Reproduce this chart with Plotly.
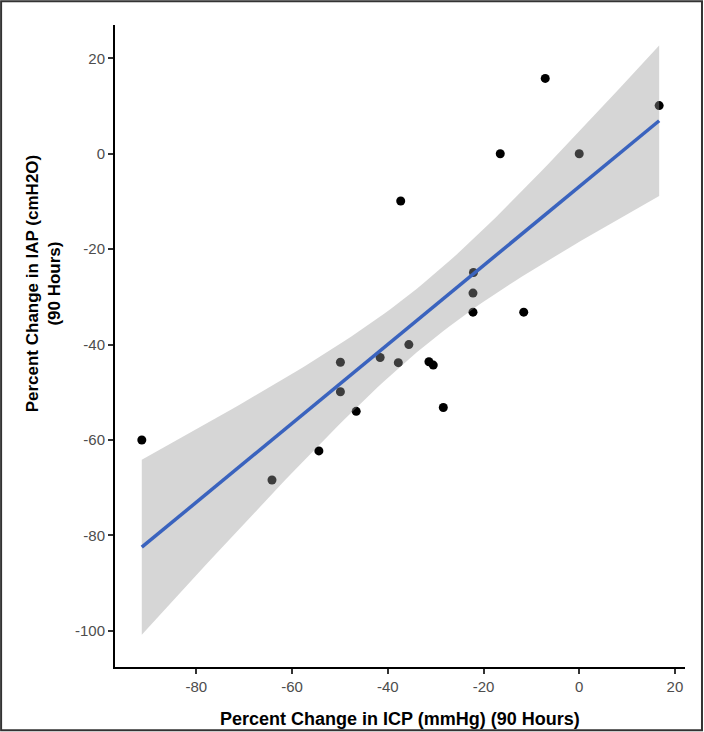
import numpy as np
import plotly.graph_objects as go

# Data
icp_change = [-91.4, -64.2, -54.4, -49.9, -49.9, -46.6, -41.6, -37.8, -37.3, -35.6,
              -31.4, -30.5, -28.4, -22.1, -22.2, -22.2, -16.5, -11.6, -7.1, 0.0, 16.7]
iap_change = [-60.0, -68.4, -62.3, -43.7, -49.9, -54.0, -42.7, -43.8, -9.9, -40.0,
              -43.6, -44.3, -53.2, -24.9, -29.2, -33.2, 0.0, -33.2, 15.8, 0.0, 10.1]
x_ticks = [-80, -60, -40, -20, 0, 20]
y_ticks = [-100, -80, -60, -40, -20, 0, 20]
x_ticklabels = ["-80", "-60", "-40", "-20", "0", "20"]
y_ticklabels = ["-100", "-80", "-60", "-40", "-20", "0", "20"]
T_975_DF19 = 2.093

x = np.array(icp_change)
y = np.array(iap_change)
n = len(x)
b, a = np.polyfit(x, y, 1)
resid = y - (a + b * x)
s = np.sqrt(np.sum(resid ** 2) / (n - 2))
xg = np.linspace(x.min(), x.max(), 80)
yg = a + b * xg
se = s * np.sqrt(1 / n + (xg - x.mean()) ** 2 / np.sum((x - x.mean()) ** 2))
upper = yg + T_975_DF19 * se
lower = yg - T_975_DF19 * se

fig = go.Figure()
fig.add_trace(go.Scatter(x=icp_change, y=iap_change, mode="markers",
                         marker=dict(color="black", size=9), showlegend=False,
                         hoverinfo="skip"))
fig.add_trace(go.Scatter(x=np.concatenate([xg, xg[::-1]]),
                         y=np.concatenate([upper, lower[::-1]]),
                         fill="toself", fillcolor="rgba(153,153,153,0.4)",
                         line=dict(width=0), mode="lines", showlegend=False,
                         hoverinfo="skip"))
fig.add_trace(go.Scatter(x=xg, y=yg, mode="lines",
                         line=dict(color="#3A63BE", width=3.5), showlegend=False))

axis_common = dict(showgrid=False, zeroline=False, showline=True, linecolor="black",
                   linewidth=2, ticks="outside", ticklen=5, tickwidth=1.5,
                   tickcolor="#333333", tickfont=dict(size=15, color="#4d4d4d"))
fig.update_xaxes(range=[-97.0, 22.1], tickvals=x_ticks, ticktext=x_ticklabels, **axis_common)
fig.update_yaxes(range=[-107.6, 27.0], tickvals=y_ticks, ticktext=y_ticklabels, **axis_common)

L, R, T, B = 115, 18.5, 24.7, 65.3
W, H = 704, 732
pw, ph = W - L - R, H - T - B

def px_x(p):
    return (p - L) / pw

def px_y(p):
    return (H - B - p) / ph

fig.add_shape(type="rect", xref="paper", yref="paper",
              x0=px_x(1), x1=px_x(W - 1.5), y0=px_y(H - 2), y1=px_y(1),
              line=dict(color="#333333", width=2), fillcolor="rgba(0,0,0,0)", layer="above")

fig.add_annotation(xref="paper", yref="paper", x=px_x(400), y=px_y(719),
                   text="<b>Percent Change in ICP (mmHg) (90 Hours)</b>", showarrow=False,
                   font=dict(size=18, color="black"), xanchor="center", yanchor="middle")
fig.add_annotation(xref="paper", yref="paper", x=px_x(43), y=px_y(283),
                   text="<b>Percent Change in IAP (cmH2O)<br>(90 Hours)</b>", showarrow=False,
                   textangle=-90, font=dict(size=17, color="black"),
                   xanchor="center", yanchor="middle")

fig.update_layout(width=W, height=H, margin=dict(l=L, r=R, t=T, b=B),
                  plot_bgcolor="white", paper_bgcolor="white",
                  font=dict(family="Liberation Sans, Arial, sans-serif"))
fig.write_html("out.html", config={"displayModeBar": False},
               post_script="document.body.style.margin='0';document.body.style.overflow='hidden';")
